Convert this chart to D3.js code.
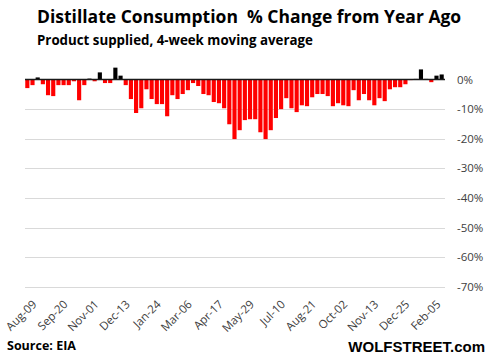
<!DOCTYPE html>
<html><head><meta charset="utf-8">
<script src="https://cdn.jsdelivr.net/npm/d3@7"></script>
<style>
body{margin:0;background:#fff;}
svg{display:block;}
text{white-space:pre;}
</style></head>
<body>
<svg id="chart" width="492" height="357"></svg>
<script>
const startDate = "2019-08-09";
const weeksCount = 81;
const values = [-2.9,-1.9,0.7,-1.6,-5.3,-5.6,-1.9,-1.9,-1.9,-0.6,
-7.0,-1.9,0.3,-0.6,2.4,-1.2,-1.2,4.0,1.3,-1.9,
-6.6,-11.3,-9.7,-3.3,-6.6,-8.3,-8.3,-12.4,-5.3,-6.6,
-4.9,-3.6,-1.2,-2.2,-4.9,-5.3,-7.6,-8.0,-9.7,-15.1,
-20.1,-17.1,-13.7,-13.4,-13.4,-17.8,-20.1,-17.1,-13.0,-10.0,
-6.3,-9.7,-11.0,-8.7,-9.0,-6.0,-4.9,-4.9,-5.6,-9.0,
-8.0,-8.7,-9.0,-3.6,-7.0,-4.9,-7.0,-8.7,-6.3,-7.3,
-3.3,-2.6,-2.6,-1.6,-0.2,0.2,3.4,0.2,-0.9,1.3,1.7];
const yTicks = [0,-10,-20,-30,-40,-50,-60,-70];
const tickEvery = 6;

const parse = d3.timeParse("%Y-%m-%d");
const fmt = d3.timeFormat("%b-%d");
const t0 = parse(startDate);
const dates = d3.range(weeksCount).map(i => d3.timeWeek.offset(t0, i));

const svg = d3.select("#chart");
const x = d3.scaleBand().domain(d3.range(weeksCount)).range([25, 444]).paddingInner(0.2).paddingOuter(0.05);
const y = d3.scaleLinear().domain([-70, 0]).range([287, 79.5]);

// gridlines
svg.append("g").selectAll("line").data(yTicks.filter(d=>d!==0)).join("line")
  .attr("x1", 25).attr("x2", 445)
  .attr("y1", d=>Math.round(y(d))+0.5).attr("y2", d=>Math.round(y(d))+0.5)
  .attr("stroke", "#d9d9d9").attr("stroke-width", 1);

// bars
svg.append("g").selectAll("rect").data(values).join("rect")
  .attr("x", (d,i)=>x(i))
  .attr("width", x.bandwidth())
  .attr("y", d=>y(Math.max(0,d)))
  .attr("height", d=>Math.abs(y(d)-y(0)))
  .attr("fill", d=> d<0 ? "#ff0000" : "#000000");

// zero line
svg.append("line").attr("x1",25).attr("x2",445).attr("y1",y(0)).attr("y2",y(0))
  .attr("stroke","#1a1a1a").attr("stroke-width",1.5);

// y labels
svg.append("g").selectAll("text").data(yTicks).join("text")
  .attr("x", 457).attr("y", d=>y(d)+4)
  .attr("font-family","Open Sans, sans-serif").attr("font-size",11.5).attr("fill","#404040")
  .text(d=>d+"%");

// x labels
const labIdx = d3.range(0, weeksCount, tickEvery).filter(i=>i<=78);
svg.append("g").selectAll("text").data(labIdx).join("text")
  .attr("transform", i=>`translate(${x(i)+x.bandwidth()/2+10},${305}) rotate(-45)`)
  .attr("text-anchor","end")
  .attr("font-family","Open Sans, sans-serif").attr("font-size",11.5).attr("fill","#404040")
  .text(i=>fmt(dates[i]));

// titles
svg.append("text").attr("x",37).attr("y",23)
  .attr("font-family","Open Sans, sans-serif").attr("font-weight","bold").attr("font-size",17.5)
  .attr("fill","#000").text("Distillate Consumption  % Change from Year Ago");
svg.append("text").attr("x",37).attr("y",45)
  .attr("font-family","Open Sans, sans-serif").attr("font-weight","bold").attr("font-size",13.3)
  .attr("fill","#000").text("Product supplied, 4-week moving average");
svg.append("text").attr("x",7).attr("y",350)
  .attr("font-family","Open Sans, sans-serif").attr("font-weight","bold").attr("font-size",12.5)
  .attr("fill","#000").text("Source: EIA");
svg.append("text").attr("x",485).attr("y",352).attr("text-anchor","end")
  .attr("font-family","Liberation Sans, Arial, sans-serif").attr("font-weight","bold").attr("font-size",15)
  .attr("fill","#000").text("WOLFSTREET.com");
</script>
</body></html>
